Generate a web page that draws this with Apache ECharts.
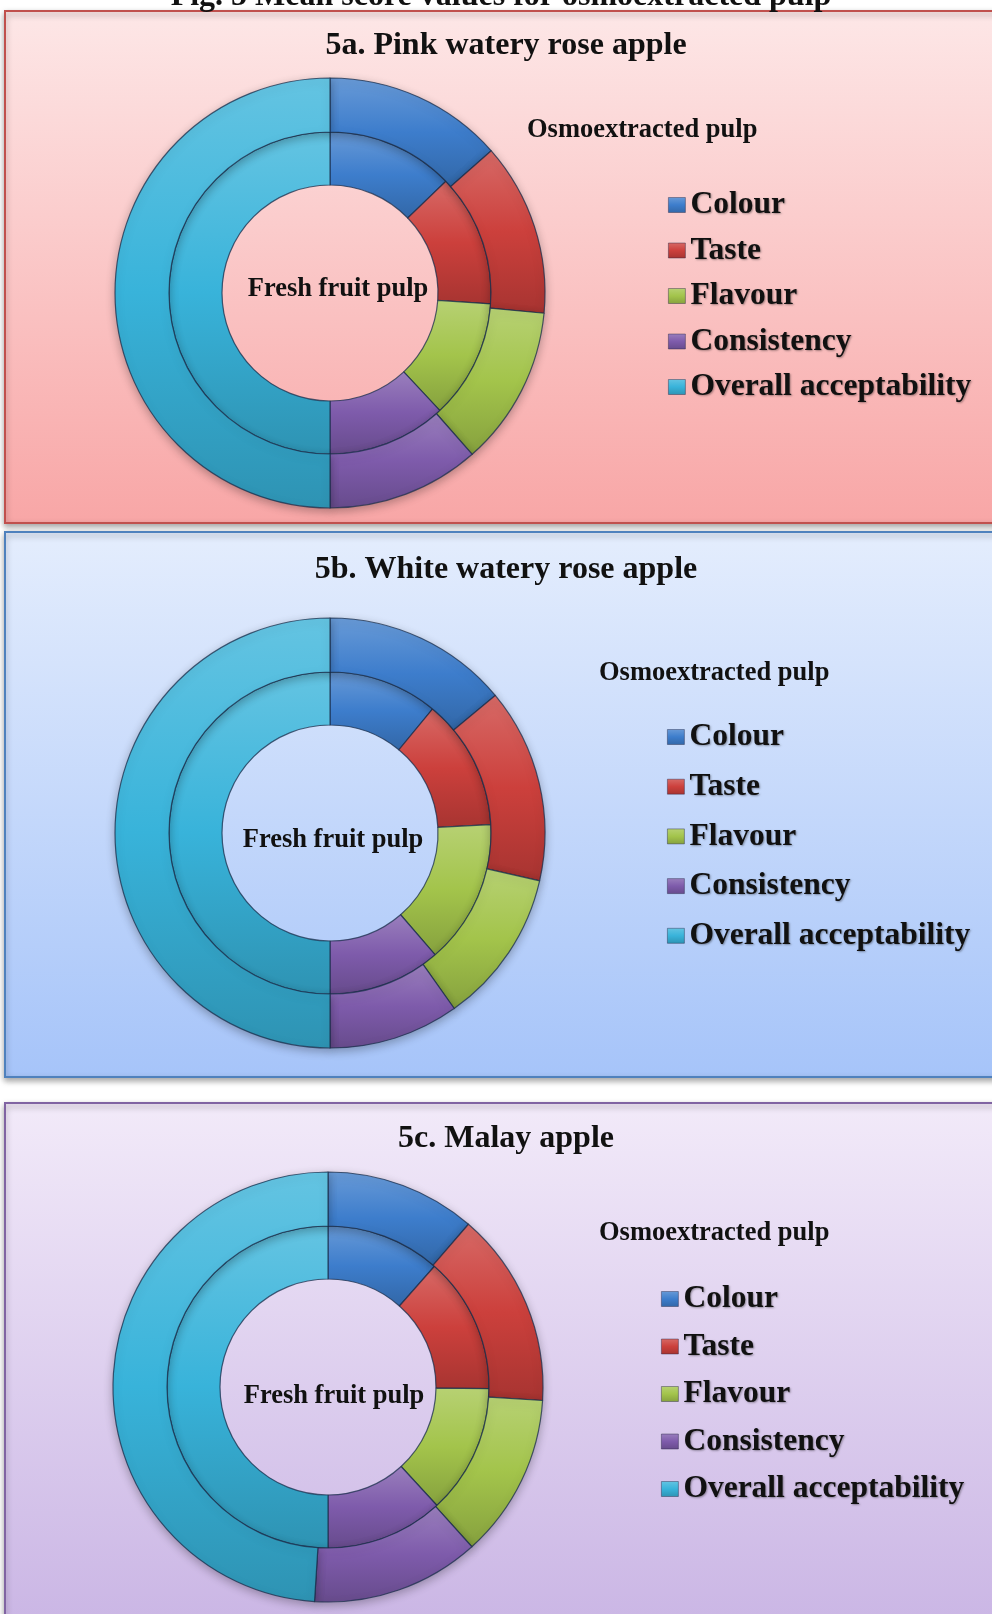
<!DOCTYPE html>
<html>
<head>
<meta charset="utf-8">
<title>Fig. 5 Mean score values for osmoextracted pulp</title>
<script src="https://cdn.jsdelivr.net/npm/echarts@6/dist/echarts.min.js"></script>
<style>
    html, body { margin: 0; padding: 0; background: #ffffff; }
    #main { width: 992px; height: 1614px; }
</style>
</head>
<body>
<div id="main"></div>
<script>
// categories shared by every ring and legend
var categories = ['Colour', 'Taste', 'Flavour', 'Consistency', 'Overall acceptability'];

// 5a pink watery rose apple (mean scores)
var pinkFresh = [7.7, 8.0, 7.2, 7.2, 30.1];
var pinkOsmo = [8.1, 7.8, 7.2, 6.9, 30.0];

// 5b white watery rose apple
var whiteFresh = [6.6, 7.9, 8.7, 6.8, 30.0];
var whiteOsmo = [8.4, 8.8, 7.0, 5.9, 30.1];

// 5c malay apple
var malayFresh = [6.9, 8.2, 7.8, 7.1, 30.0];
var malayOsmo = [6.8, 8.8, 7.4, 7.6, 29.4];

var panelTitles = ['5a. Pink watery rose apple', '5b. White watery rose apple', '5c. Malay apple'];
var innerLabel = 'Fresh fruit pulp';
var outerLabel = 'Osmoextracted pulp';
var figCaption = 'Fig. 5 Mean score values for osmoextracted pulp';

(function () {
    "use strict";

    var baseColors = ['#3d7dcc', '#cc403c', '#a3c44b', '#7e5bab', '#38b3da'];
    var serif = '"Liberation Serif", "DejaVu Serif", serif';

    // lighten (f>0) or darken (f<0) a hex colour
    function shade(hex, f) {
        var n = parseInt(hex.slice(1), 16);
        var r = n >> 16, g = (n >> 8) & 255, b = n & 255;
        function ch(v) {
            v = f > 0 ? v + (255 - v) * f : v * (1 + f);
            return Math.round(Math.max(0, Math.min(255, v)));
        }
        return 'rgb(' + ch(r) + ',' + ch(g) + ',' + ch(b) + ')';
    }

    function bevel(c) {
        return {
            type: 'linear', x: 0, y: 0, x2: 0, y2: 1,
            colorStops: [
                { offset: 0, color: shade(c, 0.22) },
                { offset: 0.5, color: c },
                { offset: 1, color: shade(c, -0.18) }
            ]
        };
    }

    function toData(values) {
        var list = [];
        for (var i = 0; i < categories.length; i++) {
            list.push({
                name: categories[i],
                value: values[i],
                itemStyle: { color: bevel(baseColors[i]) }
            });
        }
        return list;
    }

    // panel layout: [center x, center y]
    var panels = [
        { center: [330, 293], fresh: pinkFresh, osmo: pinkOsmo },
        { center: [330, 833], fresh: whiteFresh, osmo: whiteOsmo },
        { center: [328, 1387], fresh: malayFresh, osmo: malayOsmo }
    ];

    var series = [];
    for (var p = 0; p < panels.length; p++) {
        var pn = panels[p];
        series.push({
            name: innerLabel + ' ' + (p + 1),
            type: 'pie',
            center: pn.center,
            radius: [108, 161],
            startAngle: 90,
            clockwise: true,
            label: { show: false },
            labelLine: { show: false },
            emphasis: { disabled: true },
            itemStyle: { borderColor: 'rgba(25,45,75,0.75)', borderWidth: 1.2 },
            data: toData(pn.fresh)
        });
        series.push({
            name: outerLabel + ' ' + (p + 1),
            type: 'pie',
            center: pn.center,
            radius: [161, 215],
            startAngle: 90,
            clockwise: true,
            label: { show: false },
            labelLine: { show: false },
            emphasis: { disabled: true },
            itemStyle: {
                borderColor: 'rgba(25,45,75,0.75)', borderWidth: 1.2,
                shadowBlur: 10, shadowColor: 'rgba(0,0,0,0.28)', shadowOffsetY: 3
            },
            data: toData(pn.osmo)
        });
    }

    var legendText = {
        fontFamily: serif, fontWeight: 'bold', fontSize: 31.5, lineHeight: 30, color: '#111',
        textShadowColor: 'rgba(0,0,0,0.35)', textShadowBlur: 2, textShadowOffsetX: 1, textShadowOffsetY: 1
    };
    function legendAt(left, top, gap) {
        return {
            orient: 'vertical', left: left, top: top, padding: 0,
            itemGap: gap, itemWidth: 17, itemHeight: 15, icon: 'rect',
            selectedMode: false,
            itemStyle: { borderColor: 'rgba(30,30,60,0.5)', borderWidth: 0.8 },
            textStyle: legendText,
            data: categories
        };
    }

    function panelRect(top, height, c1, c2, stroke) {
        return {
            type: 'rect', z: -10,
            shape: { x: 5, y: top, width: 1000, height: height },
            style: {
                fill: { type: 'linear', x: 0, y: 0, x2: 0, y2: 1,
                    colorStops: [{ offset: 0, color: c1 }, { offset: 1, color: c2 }] },
                stroke: stroke, lineWidth: 2,
                shadowBlur: 6, shadowOffsetY: 3, shadowColor: 'rgba(0,0,0,0.35)'
            }
        };
    }

    function label(text, x, y, size, align) {
        return {
            type: 'text', z: 100,
            style: {
                text: text, x: x, y: y,
                font: 'bold ' + size + 'px ' + serif,
                fill: '#111',
                textAlign: align, align: align,
                textVerticalAlign: 'middle', verticalAlign: 'middle',
                shadowColor: 'rgba(0,0,0,0.25)', shadowBlur: 2, shadowOffsetX: 1, shadowOffsetY: 1
            }
        };
    }

    var graphics = [
        panelRect(11, 512, '#fde7e7', '#f8a6a6', '#c0504d'),
        panelRect(532, 545, '#e4edfd', '#a6c4f9', '#4f81bd'),
        panelRect(1103, 540, '#f2eaf9', '#c9b4e4', '#8064a2'),
        label(figCaption, 501, -3, 32, 'center'),
        label(panelTitles[0], 506, 46, 32, 'center'),
        label(panelTitles[1], 506, 570, 32, 'center'),
        label(panelTitles[2], 506, 1139, 32, 'center'),
        label(outerLabel, 527, 130, 26.5, 'left'),
        label(outerLabel, 599, 673, 26.5, 'left'),
        label(outerLabel, 599, 1233, 26.5, 'left'),
        label(innerLabel, 338, 289, 26.5, 'center'),
        label(innerLabel, 333, 840, 26.5, 'center'),
        label(innerLabel, 334, 1396, 26.5, 'center')
    ];

    var chart = echarts.init(document.getElementById('main'));
    chart.setOption({
        animation: false,
        legend: [
            legendAt(668, 189, 13.5),
            legendAt(667, 721, 17.7),
            legendAt(661, 1283, 15.5)
        ],
        graphic: graphics,
        series: series
    });
})();
</script>
</body>
</html>
